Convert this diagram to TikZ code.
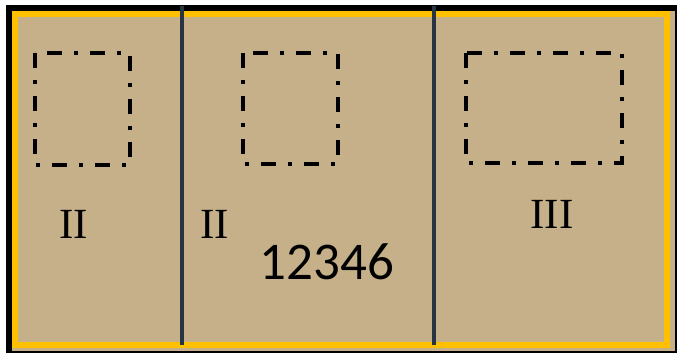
\documentclass[tikz,border=0pt]{standalone}
\usepackage{fontspec}
\setmainfont{Liberation Serif}
\newfontfamily\numfont{Carlito}
\definecolor{tanfill}{RGB}{197,176,137}
\definecolor{frameyellow}{RGB}{255,192,0}
\definecolor{divider}{RGB}{38,52,68}
\begin{document}
\begin{tikzpicture}[x=1pt,y=-1pt,
  dashbox/.style={draw=black,line width=3.6pt,dash pattern=on 15pt off 12pt on 4pt off 12pt},
  roman/.style={inner sep=0pt,font=\fontsize{43}{43}\selectfont},
  number/.style={inner sep=0pt,font=\numfont\fontsize{53}{53}\selectfont},
  divline/.style={draw=divider,line width=4pt}]
\useasboundingbox (0,0) rectangle (677,354);
\fill[white] (0,0) rectangle (677,354);
\fill[black] (6,5) rectangle (677,353);
\fill[tanfill] (12,11) rectangle (675,351);
\draw[frameyellow,line width=6pt] (15,14) rectangle (667,345);
\coordinate (d1t) at (181.5,6);
\coordinate (d1b) at (181.5,345);
\coordinate (d2t) at (434,6);
\coordinate (d2b) at (434,345);
\draw[divline] (d1t) -- (d1b);
\draw[divline] (d2t) -- (d2b);
\draw[dashbox] (35,53) rectangle (130,165);
\draw[dashbox] (243,53) rectangle (338,164);
\draw[dashbox] (466,53) rectangle (622,163);
\node[roman] (t1) at (73.5,224) {II};
\node[roman] (t2) at (214.5,224) {II};
\node[roman] (t3) at (552,214.5) {III};
\node[number] (n1) at (327,262) {12346};
\end{tikzpicture}
\end{document}
